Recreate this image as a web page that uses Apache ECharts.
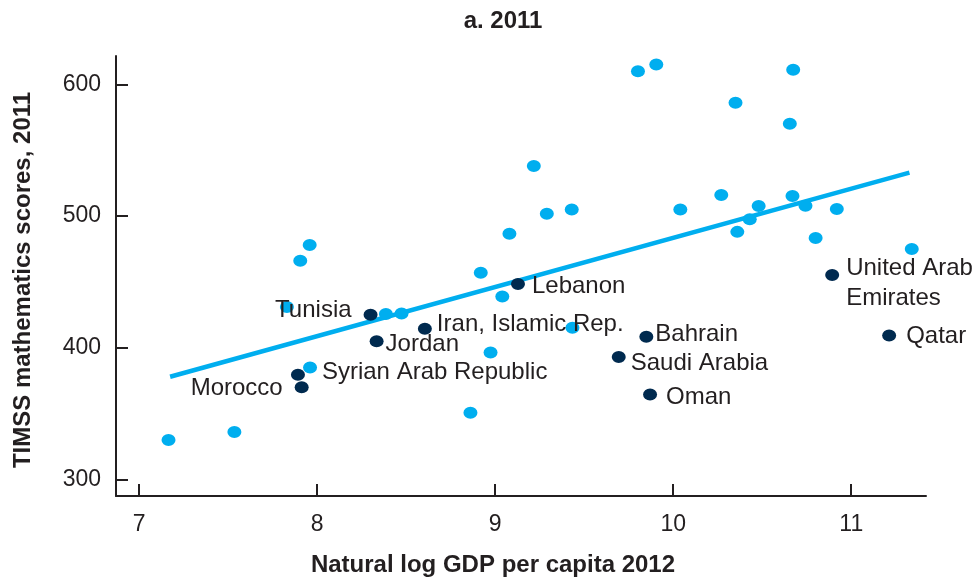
<!DOCTYPE html>
<html>
<head>
<meta charset="utf-8">
<script src="https://cdn.jsdelivr.net/npm/echarts@6/dist/echarts.min.js"></script>
<style>
html,body{margin:0;padding:0;background:#fff;}
#chart{width:975px;height:583px;}
</style>
</head>
<body>
<div id="chart"></div>
<script>
// ---- Data ----
const titleText = 'a. 2011';
const xAxisTitle = 'Natural log GDP per capita 2012';
const yAxisTitle = 'TIMSS mathematics scores, 2011';
const xTicks = [7, 8, 9, 10, 11];
const yTicks = [300, 400, 500, 600];

// Other countries (light blue)
const otherX = [7.165, 7.535, 7.83, 7.905, 7.958, 7.96, 8.386, 8.474, 8.861, 8.919, 8.974, 9.04, 9.08, 9.217, 9.29, 9.43, 9.434, 9.802, 9.905, 10.04, 10.27, 10.35, 10.36, 10.43, 10.48, 10.655, 10.674, 10.67, 10.743, 10.8, 10.919, 11.34];
const otherY = [330, 336, 431, 466, 478, 385, 425.6, 426, 350.7, 457, 396.5, 439, 486.6, 538, 501.7, 505, 415.2, 610, 615, 505, 516, 586, 488, 497.5, 507.6, 570, 611, 515.2, 507.8, 483.3, 505.3, 475];

// MENA countries (dark, labelled)
const menaNames = ['Tunisia', 'Jordan', 'Iran, Islamic Rep.', 'Lebanon', 'Syrian Arab Republic', 'Morocco', 'Bahrain', 'Saudi Arabia', 'Oman', 'United Arab\nEmirates', 'Qatar'];
const menaX = [8.30, 8.334, 8.605, 9.128, 7.892, 7.913, 9.849, 9.694, 9.87, 10.893, 11.213];
const menaY = [425, 405, 414.4, 448.4, 379.5, 370, 408.4, 393, 364.6, 455.2, 409.4];

// Fitted line end points
const fitX = [7.174, 11.327];
const fitY = [378, 533];

// ---- Styles ----
const FONT = '"Liberation Sans", Arial, Helvetica, sans-serif';
const TEXT = '#231F20';
const LIGHT = '#00AEEF';
const DARK = '#002A4F';
const FS = 24;
const TICK_FS = 23;

const labelPlacement = {
  'Tunisia': {position: 'left', distance: 12, dy: -4},
  'Jordan': {position: 'right', distance: 2, dy: 3},
  'Iran, Islamic Rep.': {position: 'right', distance: 5, dy: -4},
  'Lebanon': {position: 'right', distance: 7, dy: 2},
  'Syrian Arab Republic': {position: 'right', distance: 17, dy: -2},
  'Morocco': {position: 'left', distance: 12, dy: 1},
  'Bahrain': {position: 'right', distance: 2, dy: -2},
  'Saudi Arabia': {position: 'right', distance: 5, dy: 6},
  'Oman': {position: 'right', distance: 9, dy: 3},
  'United Arab\nEmirates': {position: 'right', distance: 7, dy: 8},
  'Qatar': {position: 'right', distance: 10, dy: 1}
};

const otherData = otherX.map((x, i) => [x, otherY[i]]);
const menaData = menaX.map((x, i) => {
  const p = labelPlacement[menaNames[i]];
  return {
    name: menaNames[i],
    value: [x, menaY[i]],
    label: {show: true, position: p.position, distance: p.distance}
  };
});
const fitData = fitX.map((x, i) => [x, fitY[i]]);

const chart = echarts.init(document.getElementById('chart'), null, {renderer: 'canvas'});
chart.setOption({
  animation: false,
  backgroundColor: '#ffffff',
  grid: {left: 116, right: 49, top: 56, bottom: 87, containLabel: false},
  xAxis: {
    type: 'value', min: 6.87, max: 11.42,
    axisLine: {show: true, onZero: false, lineStyle: {color: TEXT, width: 2}},
    axisTick: {show: true, inside: true, length: 12, customValues: xTicks, lineStyle: {color: TEXT, width: 2}},
    axisLabel: {show: true, customValues: xTicks, margin: 17, color: TEXT, fontSize: TICK_FS, fontFamily: FONT},
    splitLine: {show: false}
  },
  yAxis: {
    type: 'value', min: 287.5, max: 621.5,
    axisLine: {show: true, onZero: false, lineStyle: {color: TEXT, width: 2}},
    axisTick: {show: true, inside: true, length: 12, customValues: yTicks, lineStyle: {color: TEXT, width: 2}},
    axisLabel: {show: true, customValues: yTicks, margin: 15, color: TEXT, fontSize: TICK_FS, fontFamily: FONT},
    splitLine: {show: false}
  },
  graphic: [
    {type: 'text', x: 503, y: 21, z: 100, style: {text: titleText, fill: TEXT, font: 'bold ' + FS + 'px ' + FONT, align: 'center', verticalAlign: 'middle'}},
    {type: 'text', x: 493, y: 565, z: 100, style: {text: xAxisTitle, fill: TEXT, font: 'bold ' + FS + 'px ' + FONT, align: 'center', verticalAlign: 'middle'}},
    {type: 'text', x: 23, y: 280, rotation: Math.PI / 2, z: 100, style: {text: yAxisTitle, fill: TEXT, font: 'bold ' + FS + 'px ' + FONT, align: 'center', verticalAlign: 'middle'}}
  ],
  series: [
    {
      type: 'line', data: fitData, symbol: 'none', silent: true, z: 1,
      lineStyle: {color: LIGHT, width: 4.5}
    },
    {
      type: 'scatter', data: otherData, symbol: 'circle', symbolSize: [14, 12], z: 2,
      itemStyle: {color: LIGHT, opacity: 1}
    },
    {
      type: 'scatter', data: menaData, symbol: 'circle', symbolSize: [14, 12], z: 3,
      itemStyle: {color: DARK, opacity: 1},
      label: {show: true, formatter: '{b}', color: TEXT, fontSize: FS, fontFamily: FONT, lineHeight: 30},
      labelLayout: function (params) {
        const p = labelPlacement[menaNames[params.dataIndex]];
        return {dx: 0, dy: p.dy, hideOverlap: false};
      }
    }
  ]
});
</script>
</body>
</html>
